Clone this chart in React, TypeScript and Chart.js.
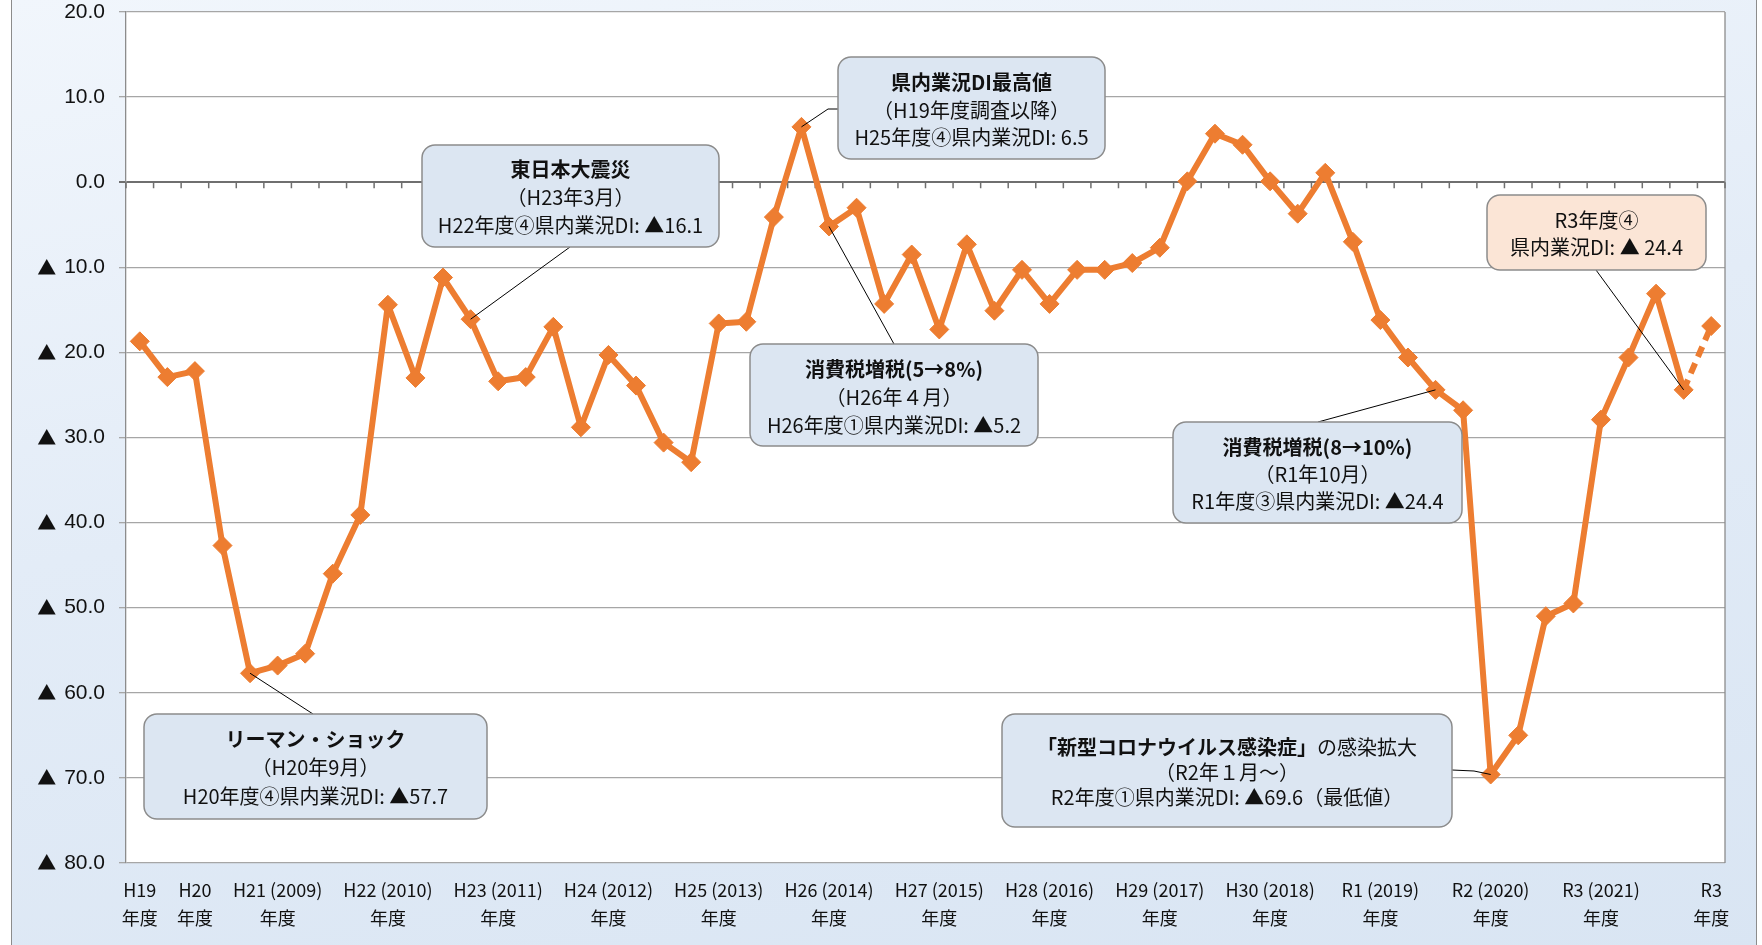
import React, { useEffect, useRef } from 'react';
import { Chart, registerables } from 'chart.js';

Chart.register(...registerables);

// ---- data ----
const quarters: string[] = [
  'H19④',
  'H20①', 'H20②', 'H20③', 'H20④',
  'H21①', 'H21②', 'H21③', 'H21④',
  'H22①', 'H22②', 'H22③', 'H22④',
  'H23①', 'H23②', 'H23③', 'H23④',
  'H24①', 'H24②', 'H24③', 'H24④',
  'H25①', 'H25②', 'H25③', 'H25④',
  'H26①', 'H26②', 'H26③', 'H26④',
  'H27①', 'H27②', 'H27③', 'H27④',
  'H28①', 'H28②', 'H28③', 'H28④',
  'H29①', 'H29②', 'H29③', 'H29④',
  'H30①', 'H30②', 'H30③', 'H30④',
  'R1①', 'R1②', 'R1③', 'R1④',
  'R2①', 'R2②', 'R2③', 'R2④',
  'R3①', 'R3②', 'R3③', 'R3④',
  'R4①見通し',
];

const diValues: number[] = [
  -18.7,
  -22.9, -22.2, -42.7, -57.7,
  -56.8, -55.4, -46.0, -39.1,
  -14.4, -23.0, -11.2, -16.1,
  -23.4, -22.9, -17.0, -28.8,
  -20.3, -23.9, -30.6, -32.9,
  -16.6, -16.4, -4.1, 6.5,
  -5.2, -3.0, -14.3, -8.5,
  -17.3, -7.3, -15.1, -10.3,
  -14.3, -10.3, -10.3, -9.5,
  -7.7, 0.1, 5.7, 4.4,
  0.1, -3.7, 1.1, -7.0,
  -16.2, -20.6, -24.4, -26.8,
  -69.6, -65.0, -51.0, -49.5,
  -27.9, -20.6, -13.1, -24.4,
  -16.9,
];

const Y_MIN = -80;
const Y_MAX = 20;
const Y_STEP = 10;

const axisLabelIndex: number[] = [0, 2, 5, 9, 13, 17, 21, 25, 29, 33, 37, 41, 45, 49, 53, 57];
const axisLabelTop: string[] = [
  'H19', 'H20', 'H21 (2009)', 'H22 (2010)', 'H23 (2011)', 'H24 (2012)', 'H25 (2013)',
  'H26 (2014)', 'H27 (2015)', 'H28 (2016)', 'H29 (2017)', 'H30 (2018)', 'R1 (2019)',
  'R2 (2020)', 'R3 (2021)', 'R3',
];
const axisLabelBottom = '年度';

// ---- styles ----
const ORANGE = '#ED7D31';
const JP = '"Noto Sans CJK JP", "Noto Sans", sans-serif';
const NUM = '"Liberation Sans", Arial, sans-serif';
const NOTE_BLUE = '#dce6f2';
const NOTE_PEACH = '#fbe5d6';

type Seg = { t: string; bold?: boolean };
type Note = {
  idx: number;
  x: number; y: number; w: number; h: number;
  fill: string;
  lines: Seg[][];
  lineY: number[];
  path: [number, number][];
};

const notes: Note[] = [
  {
    idx: 4, x: 144, y: 714, w: 343, h: 105, fill: NOTE_BLUE,
    lines: [[{ t: 'リーマン・ショック', bold: true }], [{ t: '（H20年9月）' }], [{ t: 'H20年度④県内業況DI: ▲57.7' }]],
    lineY: [25, 53, 82], path: [[313, 714]],
  },
  {
    idx: 12, x: 422, y: 145, w: 297, h: 102, fill: NOTE_BLUE,
    lines: [[{ t: '東日本大震災', bold: true }], [{ t: '（H23年3月）' }], [{ t: 'H22年度④県内業況DI: ▲16.1' }]],
    lineY: [24, 52, 80], path: [[570, 247]],
  },
  {
    idx: 24, x: 838, y: 57, w: 267, h: 102, fill: NOTE_BLUE,
    lines: [[{ t: '県内業況DI最高値', bold: true }], [{ t: '（H19年度調査以降）' }], [{ t: 'H25年度④県内業況DI: 6.5' }]],
    lineY: [25, 53, 80], path: [[838, 109], [828, 109]],
  },
  {
    idx: 25, x: 750, y: 344, w: 288, h: 102, fill: NOTE_BLUE,
    lines: [[{ t: '消費税増税(5→8%)', bold: true }], [{ t: '（H26年４月）' }], [{ t: 'H26年度①県内業況DI: ▲5.2' }]],
    lineY: [25, 53, 81], path: [[894, 344]],
  },
  {
    idx: 47, x: 1173, y: 422, w: 289, h: 101, fill: NOTE_BLUE,
    lines: [[{ t: '消費税増税(8→10%)', bold: true }], [{ t: '（R1年10月）' }], [{ t: 'R1年度③県内業況DI: ▲24.4' }]],
    lineY: [25, 52, 79], path: [[1318, 422]],
  },
  {
    idx: 49, x: 1002, y: 714, w: 450, h: 113, fill: NOTE_BLUE,
    lines: [
      [{ t: '「新型コロナウイルス感染症」', bold: true }, { t: 'の感染拡大' }],
      [{ t: '（R2年１月～）' }],
      [{ t: 'R2年度①県内業況DI: ▲69.6（最低値）' }],
    ],
    lineY: [33, 58, 83], path: [[1452, 770], [1474, 771]],
  },
  {
    idx: 56, x: 1487, y: 195, w: 219, h: 75, fill: NOTE_PEACH,
    lines: [[{ t: 'R3年度④' }], [{ t: '県内業況DI: ▲ 24.4' }]],
    lineY: [25, 52], path: [[1596, 270]],
  },
];

function fontFor(bold?: boolean) {
  return `${bold ? 'bold ' : ''}20px ${JP}`;
}

function roundRect(ctx: CanvasRenderingContext2D, x: number, y: number, w: number, h: number, r: number) {
  ctx.beginPath();
  ctx.moveTo(x + r, y);
  ctx.lineTo(x + w - r, y);
  ctx.arcTo(x + w, y, x + w, y + r, r);
  ctx.lineTo(x + w, y + h - r);
  ctx.arcTo(x + w, y + h, x + w - r, y + h, r);
  ctx.lineTo(x + r, y + h);
  ctx.arcTo(x, y + h, x, y + h - r, r);
  ctx.lineTo(x, y + r);
  ctx.arcTo(x, y, x + r, y, r);
  ctx.closePath();
}

const decorPlugin = {
  id: 'decor',
  beforeDraw(chart: any) {
    const { ctx, chartArea: a } = chart;
    ctx.save();
    ctx.fillStyle = '#ffffff';
    ctx.fillRect(a.left, a.top, a.right - a.left, a.bottom - a.top);
    ctx.restore();
  },
  beforeDatasetsDraw(chart: any) {
    const { ctx, chartArea: a, scales } = chart;
    ctx.save();
    ctx.strokeStyle = '#8c8c8c';
    ctx.lineWidth = 1.3;
    ctx.beginPath();
    ctx.moveTo(a.right, a.top);
    ctx.lineTo(a.right, a.bottom);
    ctx.stroke();
    const y0 = scales.y.getPixelForValue(0);
    const n = quarters.length;
    const step = (a.right - a.left) / n;
    ctx.strokeStyle = '#6f6f6f';
    ctx.lineWidth = 1.5;
    ctx.beginPath();
    for (let i = 0; i <= n; i++) {
      const x = a.left + i * step;
      ctx.moveTo(x, y0);
      ctx.lineTo(x, y0 + 6);
    }
    ctx.stroke();

    // y tick labels (▲ drawn with a CJK font so it matches the digit height)
    const ys = scales.y;
    ctx.fillStyle = '#111111';
    ctx.textBaseline = 'middle';
    ctx.textAlign = 'right';
    for (const t of ys.ticks) {
      const v = Number(t.value);
      const y = ys.getPixelForValue(v);
      const num = Math.abs(v).toFixed(1);
      ctx.font = `21px ${NUM}`;
      ctx.fillText(num, 105, y);
      if (v < 0) {
        const w = ctx.measureText(num).width;
        ctx.font = `19px ${JP}`;
        ctx.fillText('▲', 105 - w - 8, y);
      }
    }
    ctx.restore();
  },
  afterDatasetsDraw(chart: any) {
    const { ctx } = chart;
    const meta = chart.getDatasetMeta(0);
    ctx.save();
    for (const n of notes) {
      const pt = meta.data[n.idx];
      ctx.beginPath();
      ctx.moveTo(n.path[0][0], n.path[0][1]);
      for (let i = 1; i < n.path.length; i++) ctx.lineTo(n.path[i][0], n.path[i][1]);
      ctx.lineTo(pt.x, pt.y);
      ctx.strokeStyle = '#000000';
      ctx.lineWidth = 1;
      ctx.stroke();
    }
    for (const n of notes) {
      roundRect(ctx, n.x, n.y, n.w, n.h, 13);
      ctx.fillStyle = n.fill;
      ctx.fill();
      ctx.strokeStyle = '#8c8c8c';
      ctx.lineWidth = 1.5;
      ctx.stroke();
      ctx.fillStyle = '#111111';
      ctx.textBaseline = 'middle';
      ctx.textAlign = 'left';
      n.lines.forEach((segs, li) => {
        let total = 0;
        const widths = segs.map((s) => {
          ctx.font = fontFor(s.bold);
          const w = ctx.measureText(s.t).width;
          total += w;
          return w;
        });
        let x = n.x + n.w / 2 - total / 2;
        const y = n.y + n.lineY[li];
        segs.forEach((s, si) => {
          ctx.font = fontFor(s.bold);
          ctx.fillText(s.t, x, y);
          x += widths[si];
        });
      });
    }
    ctx.restore();
  },
};

export default function App() {
  const canvasRef = useRef<HTMLCanvasElement | null>(null);

  useEffect(() => {
    document.body.style.margin = '0';
    const canvas = canvasRef.current;
    if (!canvas) return;
    const chart = new Chart(canvas, {
      type: 'line',
      data: {
        labels: quarters,
        datasets: [
          {
            label: '県内業況DI',
            data: diValues,
            borderColor: ORANGE,
            backgroundColor: ORANGE,
            borderWidth: 6,
            borderJoinStyle: 'round',
            tension: 0,
            pointStyle: 'rectRot',
            pointRadius: 9.5,
            pointBorderWidth: 1,
            pointBackgroundColor: ORANGE,
            pointBorderColor: ORANGE,
            segment: {
              borderDash: (ctx: any) => (ctx.p1DataIndex === quarters.length - 1 ? [11, 7] : undefined),
            },
          } as any,
        ],
      },
      options: {
        responsive: false,
        animation: false,
        layout: { padding: { left: 0, right: 37, top: 12, bottom: 0 } },
        plugins: {
          legend: { display: false },
          tooltip: { enabled: false },
        },
        scales: {
          x: {
            type: 'category',
            offset: true,
            grid: { display: false, drawTicks: false },
            border: { display: false },
            ticks: {
              autoSkip: false,
              maxRotation: 0,
              minRotation: 0,
              padding: 13,
              color: '#111111',
              font: { family: JP, size: 18, lineHeight: '28px' as any },
              callback: (_v: any, i: number) => {
                const k = axisLabelIndex.indexOf(i);
                return k >= 0 ? [axisLabelTop[k], axisLabelBottom] : '';
              },
            },
            afterFit: (s: any) => {
              s.height = 82;
              s.paddingLeft = 0;
              s.paddingRight = 0;
            },
          },
          y: {
            min: Y_MIN,
            max: Y_MAX,
            ticks: {
              stepSize: Y_STEP,
              padding: 14,
              color: 'rgba(0,0,0,0)',
              font: { family: NUM, size: 20 },
              callback: (v: any) => {
                const n = Number(v);
                if (n < 0) return '▲ ' + (-n).toFixed(1);
                return n.toFixed(1);
              },
            },
            grid: {
              color: (c: any) => (c.tick && c.tick.value === 0 ? '#6f6f6f' : '#a6a6a6'),
              lineWidth: (c: any) => (c.tick && c.tick.value === 0 ? 2 : 1.3),
              tickLength: 7,
              drawTicks: true,
            },
            border: { display: true, color: '#8c8c8c', width: 1.3 },
            afterFit: (s: any) => {
              s.width = 126;
              s.paddingTop = 0;
              s.paddingBottom = 0;
            },
          },
        },
      } as any,
      plugins: [decorPlugin],
    });
    return () => chart.destroy();
  }, []);

  return (
    <div style={{ position: 'relative', width: 1762, height: 945, background: '#ffffff', overflow: 'hidden' }}>
      <div
        style={{
          position: 'absolute',
          left: 11,
          top: -2,
          width: 1746,
          height: 960,
          boxSizing: 'border-box',
          border: '1px solid #8c8c8c',
          background: 'linear-gradient(170deg, #f1f6fc 0%, #e3ecf7 45%, #d9e5f3 100%)',
        }}
      />
      <canvas ref={canvasRef} width={1762} height={945} style={{ position: 'absolute', left: 0, top: 0 }} />
    </div>
  );
}
